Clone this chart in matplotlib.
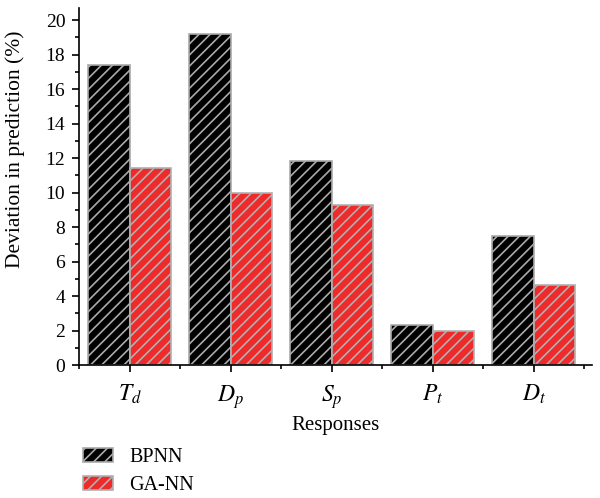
import numpy as np
import matplotlib.pyplot as plt
from matplotlib.ticker import MultipleLocator, FixedLocator

plt.rcParams['font.family'] = 'Liberation Serif'
plt.rcParams['mathtext.fontset'] = 'stix'
plt.rcParams['hatch.linewidth'] = 1.2

responses = ['$T_d$', '$D_p$', '$S_p$', '$P_t$', '$D_t$']
bpnn = [17.4, 19.2, 11.8, 2.3, 7.5]
ganN = [11.4, 10.0, 9.3, 2.0, 4.65]

x = np.arange(len(responses))
w = 0.41

fig = plt.figure(figsize=(6, 4.98), dpi=100)
ax = fig.add_axes([0.132, 0.267, 0.855, 0.717])

b1 = ax.bar(x - w / 2, bpnn, w, color='black', edgecolor='#aaaaaa', hatch='///', linewidth=1.2, label='BPNN')
b2 = ax.bar(x + w / 2, ganN, w, color='#ee2a2a', edgecolor='#b0b0b0', hatch='///', linewidth=1.2, label='GA-NN')

ax.set_xlim(-0.5, 4.58)
ax.set_ylim(0, 20.7)
ax.set_xticks(x)
ax.set_xticklabels(responses, fontsize=17)
ax.xaxis.set_minor_locator(FixedLocator(np.arange(-0.5, 5, 1)))
ax.yaxis.set_major_locator(FixedLocator(np.arange(0, 21, 2)))
ax.yaxis.set_minor_locator(MultipleLocator(1))
ax.tick_params(axis='y', labelsize=14, length=5, width=1.2, pad=5)
ax.tick_params(axis='x', length=5, width=1.2, pad=8)
ax.tick_params(which='minor', length=3, width=1.2)
ax.spines['top'].set_visible(False)
ax.spines['right'].set_visible(False)
ax.spines['left'].set_linewidth(1.2)
ax.spines['bottom'].set_linewidth(1.2)

ax.set_xlabel('Responses', fontsize=15, labelpad=4)
ax.set_ylabel('Deviation in prediction (%)', fontsize=15.5)
ax.yaxis.set_label_coords(-0.105, 0.605)

fig.legend(handles=[b1, b2], loc='lower left', bbox_to_anchor=(0.108, -0.03), frameon=False,
           fontsize=14.5, handlelength=1.5, handleheight=0.7, handletextpad=0.8, labelspacing=0.45)

plt.savefig('out.png')
